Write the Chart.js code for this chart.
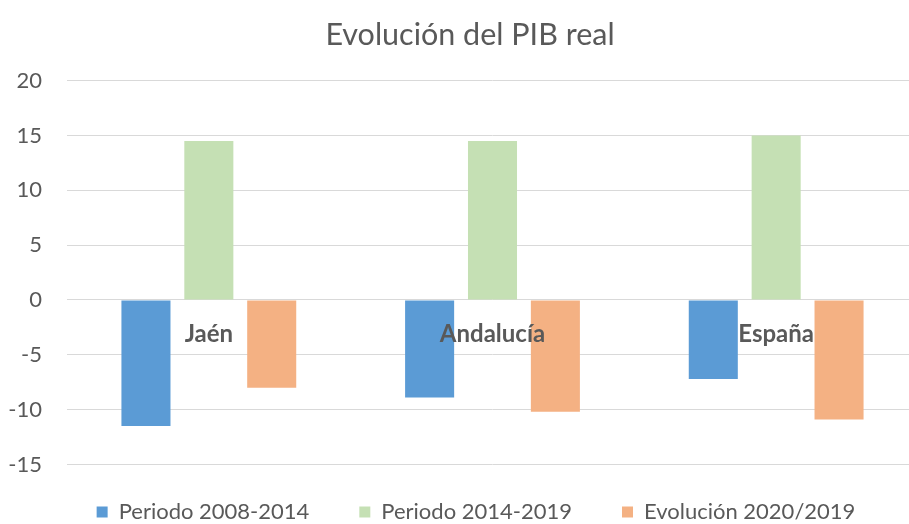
<!DOCTYPE html>
<html>
<head>
<meta charset="utf-8">
<script src="https://cdn.jsdelivr.net/npm/chart.js@4"></script>
<style>
  html, body { margin: 0; padding: 0; background: #fff; overflow: hidden; }
</style>
</head>
<body>
<canvas id="pibChart" width="918" height="524"></canvas>
<script>
// datos
const categorias = ['Jaén', 'Andalucía', 'España'];
const periodo0814 = [-11.5, -8.9, -7.2];
const periodo1419 = [14.5, 14.5, 15.0];
const evolucion2019 = [-8.0, -10.2, -10.9];
const yTicks = [-15, -10, -5, 0, 5, 10, 15, 20];

const gris = '#595959';
const fuente = 'Lato, "Open Sans", sans-serif';

// etiquetas de categoría junto a la línea del cero (como en Excel)
const etiquetasCero = {
	id: 'etiquetasCero',
	afterDatasetsDraw(chart) {
		const xScale = chart.scales.x;
		const yScale = chart.scales.y;
		const ctx = chart.ctx;
		ctx.save();
		ctx.font = 'bold 24px ' + fuente;
		ctx.fillStyle = gris;
		ctx.textAlign = 'center';
		ctx.textBaseline = 'middle';
		categorias.forEach((c, i) => {
			ctx.fillText(c, xScale.getPixelForValue(i), yScale.getPixelForValue(0) + 34);
		});
		ctx.restore();
	}
};

// el gráfico original está recortado por la derecha: recentrar título y leyenda
const recentrar = {
	id: 'recentrar',
	afterLayout(chart) {
		chart.titleBlock.left = 22;
		chart.legend.left = 17;
		chart.legend.right = 935;
	}
};

const ctx = document.getElementById('pibChart').getContext('2d');
const chart = new Chart(ctx, {
	type: 'bar',
	data: {
		labels: categorias,
		datasets: [
			{ label: 'Periodo 2008-2014', data: periodo0814, backgroundColor: '#5B9BD5', borderWidth: 0 },
			{ label: 'Periodo 2014-2019', data: periodo1419, backgroundColor: '#C5E0B4', borderWidth: 0 },
			{ label: 'Evolución 2020/2019', data: evolucion2019, backgroundColor: '#F4B183', borderWidth: 0 }
		]
	},
	options: {
		responsive: false,
		animation: false,
		categoryPercentage: 0.665,
		barPercentage: 0.78,
		layout: { padding: { left: 0, right: 0, top: 0, bottom: -22.5 } },
		plugins: {
			title: {
				display: true,
				text: 'Evolución del PIB real',
				color: gris,
				font: { family: fuente, size: 30.5, weight: 'normal' },
				padding: { top: 17, bottom: 27 }
			},
			legend: {
				position: 'bottom',
				labels: {
					color: gris,
					font: { family: fuente, size: 22 },
					boxWidth: 11,
					boxHeight: 11,
					padding: 50
				}
			},
			tooltip: { enabled: false }
		},
		scales: {
			x: {
				grid: { display: false },
				border: { display: false },
				ticks: { display: false },
				afterFit(scale) { scale.height = -13.5; }
			},
			y: {
				min: -15,
				max: 20,
				afterBuildTicks(scale) { scale.ticks = yTicks.map(v => ({ value: v })); },
				grid: { color: '#D9D9D9', lineWidth: 1, drawTicks: false },
				border: { display: false },
				ticks: {
					color: gris,
					font: { family: fuente, size: 22 },
					padding: 25
				},
				afterFit(scale) { scale.width = 67; }
			}
		}
	},
	plugins: [etiquetasCero, recentrar]
});
</script>
</body>
</html>
